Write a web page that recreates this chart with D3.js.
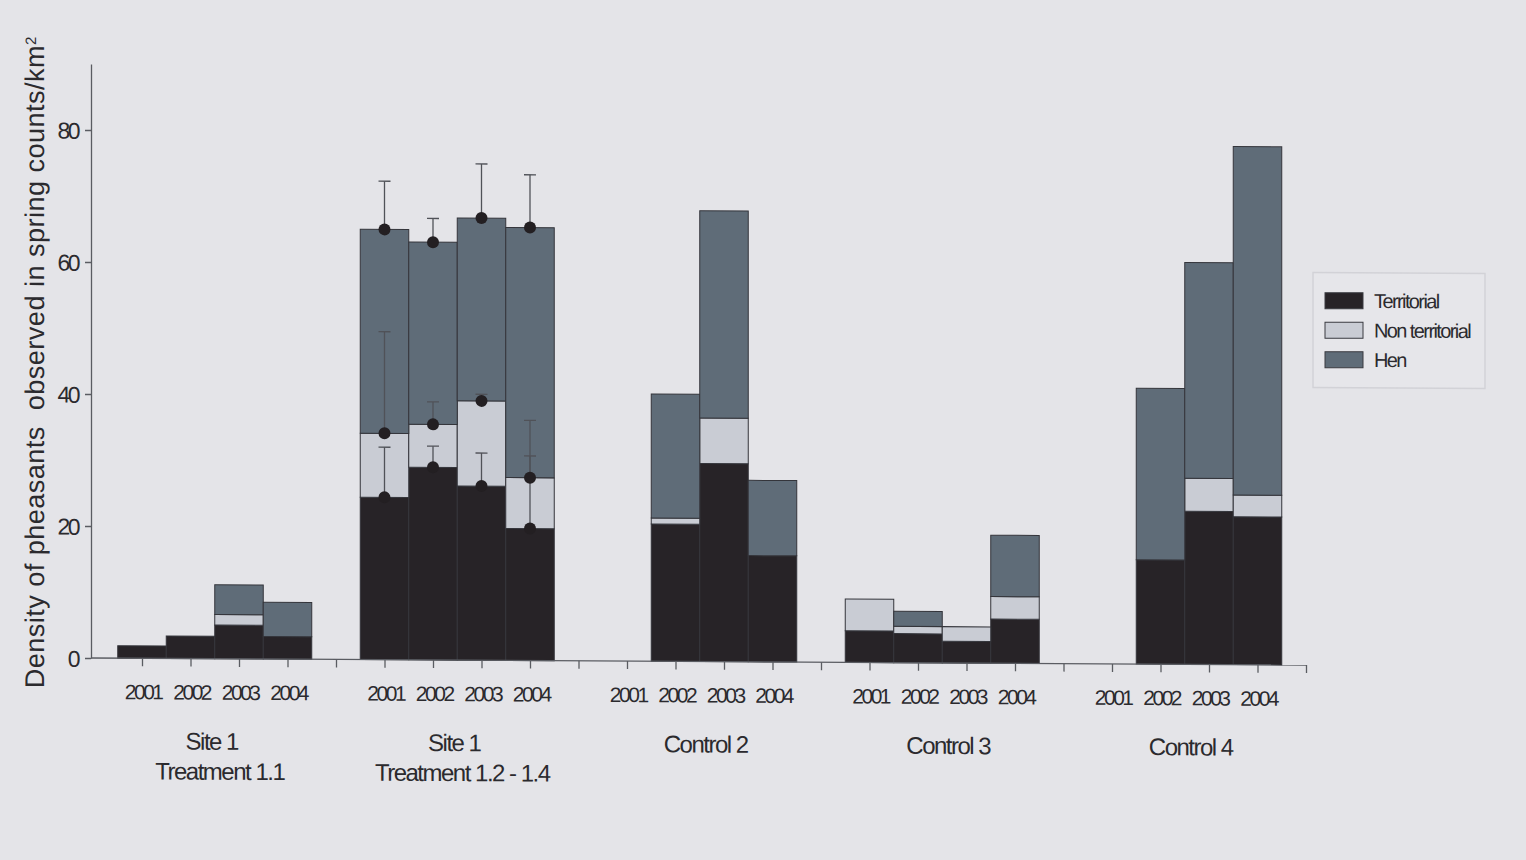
<!DOCTYPE html>
<html>
<head>
<meta charset="utf-8">
<script src="https://cdn.jsdelivr.net/npm/d3@7"></script>
<style>
  html, body { margin: 0; padding: 0; background: #e4e4e8; }
  svg { display: block; }
  text { font-family: "Liberation Sans", Arial, sans-serif; fill: #2b2a2e; }
</style>
</head>
<body>
<script>
// Sites / treatments along the x axis (two label lines each)
const groupLines = [
  ["Site 1", "Treatment 1.1"],
  ["Site 1", "Treatment 1.2 - 1.4"],
  ["Control 2"],
  ["Control 3"],
  ["Control 4"]
];
const years = ["2001", "2002", "2003", "2004"];

// Density (birds / km²) per group and year, in group order, four years each
const territorial = [
  1.9, 3.4, 5.1, 3.4,
  24.6, 29.2, 26.4, 20.0,
  0, 20.8, 30.0, 16.1,
  4.8, 4.4, 3.3, 6.7,
  0, 15.8, 23.2, 22.4
];
const nonTerritorial = [
  0, 0, 1.6, 0,
  9.7, 6.5, 12.9, 7.7,
  0, 0.9, 6.9, 0,
  4.8, 1.1, 2.2, 3.4,
  0, 0, 5.0, 3.3
];
const hen = [
  0, 0, 4.5, 5.2,
  30.9, 27.6, 27.7, 37.9,
  0, 18.8, 31.4, 11.4,
  0, 2.3, 0, 9.3,
  0, 26.0, 32.7, 52.8
];

// Upper error (SE) for Treatment 1.2 - 1.4, per year
const errGroup = 1;
const errTerritorial = [7.6, 3.2, 5.0, 11.0];
const errNonTerritorial = [15.4, 3.4, 1.0, 8.7];
const errHen = [7.3, 3.6, 8.2, 8.0];

const seriesNames = ["Territorial", "Non territorial", "Hen"];
const seriesColors = ["#272327", "#c9ccd4", "#5f6c78"];
const yTicks = [0, 20, 40, 60, 80];

const W = 1526, H = 860;
const svg = d3.select("body").append("svg").attr("width", W).attr("height", H);
svg.append("rect").attr("width", W).attr("height", H).attr("fill", "#e4e4e8");

// the printed figure sits very slightly askew on the page
const g = svg.append("g").attr("transform", "skewY(0.33)");

const slotsPerGroup = years.length + 1;
const nSlots = groupLines.length * slotsPerGroup;
const x = d3.scaleLinear().domain([0, nSlots]).range([93.5, 1306]);
const y = d3.scaleLinear().domain([0, 90]).range([657.5, 63.5]);
const axisX0 = 91;
const slotW = x(1) - x(0);

const rows = territorial.map((t, i) => {
  const gi = Math.floor(i / years.length), yi = i % years.length;
  return { gi, yi, slot: gi * slotsPerGroup + yi + 1,
           values: [t, nonTerritorial[i], hen[i]] };
});
const stack = d3.stack().keys([0, 1, 2]).value((d, k) => d.values[k]);
const layers = stack(rows);

// stacked bars
g.selectAll("g.layer").data(layers).join("g")
  .attr("class", "layer")
  .attr("fill", (d, i) => seriesColors[i])
  .selectAll("rect").data(d => d.filter(s => s[1] - s[0] > 0)).join("rect")
  .attr("x", d => x(d.data.slot) - slotW / 2)
  .attr("width", slotW)
  .attr("y", d => y(d[1]))
  .attr("height", d => y(d[0]) - y(d[1]))
  .attr("stroke", "#34353b")
  .attr("stroke-width", 1);

// error whiskers and means for the treated site
const errs = [errTerritorial, errNonTerritorial, errHen];
const errData = [];
layers.forEach((layer, k) => {
  layer.forEach(s => {
    if (s.data.gi === errGroup) {
      errData.push({ slot: s.data.slot, top: s[1], err: errs[k][s.data.yi] });
    }
  });
});
const eg = g.append("g");
eg.selectAll("line.whisker").data(errData).join("line")
  .attr("x1", d => x(d.slot)).attr("x2", d => x(d.slot))
  .attr("y1", d => y(d.top)).attr("y2", d => y(d.top + d.err))
  .attr("stroke", "#505258").attr("stroke-width", 1.3);
eg.selectAll("line.cap").data(errData).join("line")
  .attr("x1", d => x(d.slot) - 6).attr("x2", d => x(d.slot) + 6)
  .attr("y1", d => y(d.top + d.err)).attr("y2", d => y(d.top + d.err))
  .attr("stroke", "#505258").attr("stroke-width", 1.3);
eg.selectAll("circle").data(errData).join("circle")
  .attr("cx", d => x(d.slot)).attr("cy", d => y(d.top))
  .attr("r", 6).attr("fill", "#231f22");

// y axis
const yAxis = g.append("g").attr("transform", `translate(${axisX0},0)`)
  .call(d3.axisLeft(y).tickValues(yTicks).tickSize(6).tickSizeOuter(0).tickFormat(d3.format("d")));
yAxis.select(".domain").attr("stroke", "#5a5c62").attr("stroke-width", 1.3);
yAxis.selectAll(".tick line").attr("stroke", "#5a5c62").attr("stroke-width", 1.3);
yAxis.selectAll(".tick text")
  .attr("x", -13).attr("dy", "0.36em")
  .style("font-size", "23px").style("letter-spacing", "-2.5px")
  .attr("fill", "#2b2a2e");

// x axis: one tick per slot, year labels under the bars
const xAxis = g.append("g").attr("transform", `translate(0,${y(0)})`)
  .call(d3.axisBottom(x).tickValues(d3.range(1, nSlots + 1)).tickSize(8).tickFormat(""));
xAxis.select(".domain").remove();
xAxis.selectAll(".tick line").attr("stroke", "#5a5c62").attr("stroke-width", 1.3);
xAxis.append("line")
  .attr("x1", axisX0).attr("x2", x(nSlots))
  .attr("stroke", "#5a5c62").attr("stroke-width", 1.3);

g.selectAll("text.year").data(rows).join("text")
  .attr("class", "year")
  .attr("x", d => x(d.slot) + 1.2)
  .attr("y", y(0) + 41)
  .attr("text-anchor", "middle")
  .style("font-size", "21px").style("letter-spacing", "-2.5px")
  .text(d => years[d.yi]);

// group captions
const cap = g.selectAll("text.group").data(groupLines).join("text")
  .attr("class", "group")
  .attr("text-anchor", "middle")
  .style("font-size", "24px").style("letter-spacing", "-1.5px");
cap.selectAll("tspan").data((d, gi) => d.map((t, li) => ({ t, li, gi, n: d.length }))).join("tspan")
  .attr("x", d => x(d.gi * slotsPerGroup + 2.5) + (d.n > 1 ? (d.li === 0 ? -3 : 5) : 6))
  .attr("y", d => y(0) + 91 + d.li * 30)
  .text(d => d.t);

// y axis title
g.append("text")
  .attr("transform", `translate(44,${362}) rotate(-90)`)
  .attr("text-anchor", "middle")
  .style("font-size", "27px").style("white-space", "pre").style("letter-spacing", "0.5px")
  .text("Density of pheasants  observed in spring counts/km")
  .append("tspan").attr("baseline-shift", "super").style("font-size", "15px").text("2");

// legend
const lg = g.append("g").attr("transform", "translate(1313,265)");
lg.append("rect").attr("width", 172).attr("height", 115)
  .attr("fill", "#e6e6ea").attr("stroke", "#d2d2d7").attr("stroke-width", 1.5);
const item = lg.selectAll("g.item").data(seriesNames).join("g")
  .attr("class", "item")
  .attr("transform", (d, i) => `translate(12,${28 + i * 29.5})`);
item.append("rect").attr("y", -8).attr("width", 38).attr("height", 16)
  .attr("fill", (d, i) => seriesColors[i]).attr("stroke", "#3a3b40").attr("stroke-width", 1);
item.append("text").attr("x", 49).attr("y", 7)
  .style("font-size", "20px").style("letter-spacing", "-1.6px")
  .text(d => d);
</script>
</body>
</html>
